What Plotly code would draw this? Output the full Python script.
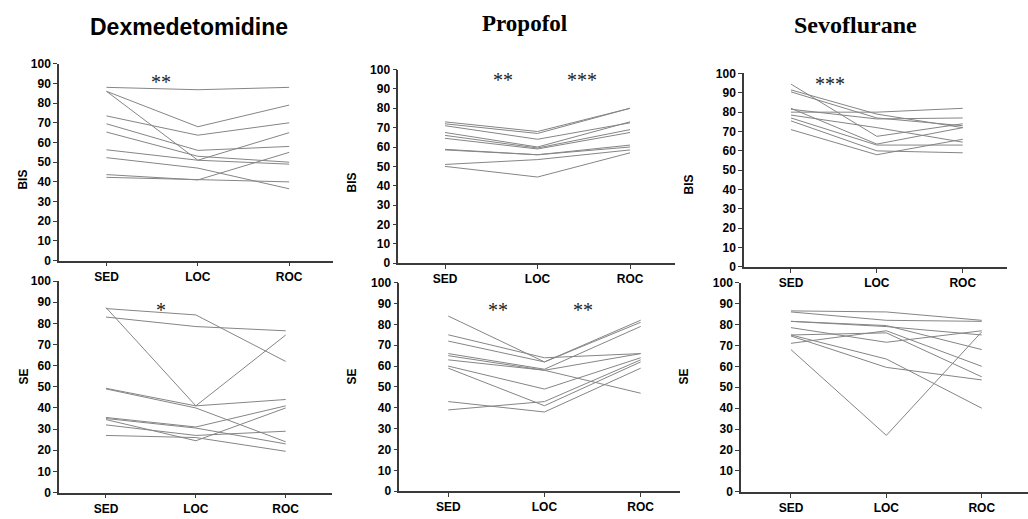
import plotly.graph_objects as go

W, H = 1028, 519

phases = ["SED", "LOC", "ROC"]
drugs = ["Dexmedetomidine", "Propofol", "Sevoflurane"]

# each row = one subject: [SED, LOC, ROC]
dex_bis = [[88, 86.8, 88], [86, 68, 79], [86, 51, 65], [73.5, 63.7, 70], [69.5, 56, 58],
           [65.3, 53, 50], [56.3, 51, 49], [52.3, 47, 36.5], [43.7, 41, 55], [42.3, 41, 40]]
prop_bis = [[73, 68, 80], [72, 67, 80], [71, 64, 72.5], [67.5, 60, 73], [66, 59.5, 69],
            [64.5, 59, 67.5], [58.8, 56, 61], [58.5, 56, 60], [51, 53.5, 58.5], [50, 44.5, 57]]
sevo_bis = [[94.5, 67.5, 74], [91.5, 79, 72], [90.5, 77, 73], [82, 63.5, 72], [81.5, 76.5, 77],
            [80, 80, 82], [78.5, 72, 64.5], [77, 63, 63], [75.5, 60, 59], [71, 58, 66]]
dex_se = [[87, 84, 62], [87.5, 41, 74.5], [83, 78.5, 76.5], [49.3, 41, 44], [49, 40, 24],
          [35.5, 31, 41], [35, 30.5, 23], [34.5, 24.5, 40], [32, 27, 29], [27, 26, 19.5]]
prop_se = [[84, 62, 81], [75, 64, 66], [72, 62, 82], [66, 58.5, 79], [65, 58, 47],
           [63, 58, 66], [60, 49, 64], [59, 41, 62], [43, 38, 59], [39, 43, 63]]
sevo_se = [[86.5, 86, 82], [86, 82, 81.5], [81.5, 79.5, 68], [81.5, 79, 75], [75, 76, 55],
           [71, 77, 60], [78.5, 71.5, 77], [75, 63.5, 40], [74.5, 59.5, 53.5], [68, 27, 76.5]]

panels = [
    dict(data=dex_bis, yt="BIS", dom=(59, 333), rng=(-0.52, 2.48), yd=(58.3, 260.7),
         ytx=14, yty=165),
    dict(data=prop_bis, yt="BIS", dom=(398.3, 675), rng=(-0.505, 2.486), yd=(64.3, 263.3),
         ytx=352, yty=168),
    dict(data=sevo_bis, yt="BIS", dom=(744, 1006.7), rng=(-0.547, 2.512), yd=(68.3, 267.2),
         ytx=698, yty=170),
    dict(data=dex_se, yt="SE", dom=(59, 331.7), rng=(-0.523, 2.512), yd=(281.7, 499),
         ytx=15, yty=390),
    dict(data=prop_se, yt="SE", dom=(399.3, 680), rng=(-0.509, 2.409), yd=(283.3, 497.7),
         ytx=352, yty=390),
    dict(data=sevo_se, yt="SE", dom=(741, 1027.5), rng=(-0.524, 2.48), yd=(283.3, 498.3),
         ytx=693, yty=390),
]

stars = [("**", 161, 73), ("**", 502.5, 71), ("***", 581.7, 71), ("***", 829.5, 75),
         ("*", 161, 307), ("**", 497.5, 307.5), ("**", 582.5, 307.5)]

fig = go.Figure()
layout = dict(width=W, height=H, margin=dict(l=0, r=0, t=0, b=0),
              paper_bgcolor="white", plot_bgcolor="white", showlegend=False)

axfont = dict(family="Liberation Sans, Arial", size=12, color="black", weight="bold")
annotations = []
for i, p in enumerate(panels, start=1):
    xa = "x" if i == 1 else f"x{i}"
    ya = "y" if i == 1 else f"y{i}"
    for subj in p["data"]:
        fig.add_trace(go.Scatter(x=phases, y=subj, mode="lines", xaxis=xa, yaxis=ya,
                                 line=dict(color="#858585", width=1), hoverinfo="skip"))
    layout["xaxis" if i == 1 else f"xaxis{i}"] = dict(
        domain=[p["dom"][0] / W, p["dom"][1] / W], anchor=ya, type="category",
        range=list(p["rng"]), showgrid=False, zeroline=False, showline=True,
        linecolor="#3a3a3a", linewidth=1.5, ticks="outside", ticklen=4, tickwidth=1,
        tickcolor="#3a3a3a", tickfont=axfont, fixedrange=True)
    layout["yaxis" if i == 1 else f"yaxis{i}"] = dict(
        domain=[1 - p["yd"][1] / H, 1 - p["yd"][0] / H], anchor=xa, range=[0, 100],
        tick0=0, dtick=10, showgrid=False, zeroline=False, showline=True,
        linecolor="#3a3a3a", linewidth=1.5, ticks="outside", ticklen=4, tickwidth=1,
        tickcolor="#3a3a3a", tickfont=axfont, fixedrange=True)
    annotations.append(dict(text=p["yt"], x=p["ytx"] / W, y=1 - p["yty"] / H, xref="paper",
                            yref="paper", showarrow=False, textangle=-90,
                            font=dict(family="Liberation Sans, Arial", size=12,
                                      color="black", weight="bold")))

titles = [("Dexmedetomidine", 189, 21, "Liberation Sans, Arial", 23),
          ("Propofol", 524, 17, "Liberation Serif, Times New Roman", 23),
          ("Sevoflurane", 855, 18, "Liberation Serif, Times New Roman", 24)]
for t, x, y, fam, sz in titles:
    annotations.append(dict(text=t, x=x / W, y=1 - y / H, xref="paper", yref="paper",
                            showarrow=False, xanchor="center", yanchor="middle",
                            font=dict(family=fam, size=sz, color="black", weight="bold")))

for s, x, y in stars:
    annotations.append(dict(text=s, x=x / W, y=1 - (y + 4) / H, xref="paper", yref="paper",
                            showarrow=False, xanchor="center", yanchor="middle",
                            font=dict(family="Liberation Serif, Times New Roman", size=20,
                                      color="#222")))

layout["annotations"] = annotations
fig.update_layout(**layout)
fig.write_html("out.html")
